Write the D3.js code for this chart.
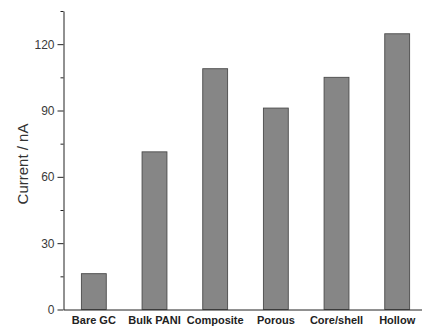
<!DOCTYPE html>
<html>
<head>
<meta charset="utf-8">
<script src="https://cdn.jsdelivr.net/npm/d3@7"></script>
<style>
  body { margin: 0; background: #fff; }
  svg { display: block; font-family: "Liberation Sans", Arial, sans-serif; }
</style>
</head>
<body>
<svg></svg>
<script>
const W = 422
const H = 327

const categories = ['Bare GC', 'Bulk PANI', 'Composite', 'Porous', 'Core/shell', 'Hollow']
const currents = [16.2, 71.3, 108.9, 91.1, 105.0, 124.7]
const majorTicks = [0, 30, 60, 90, 120]
const minorTicks = [15, 45, 75, 105, 135]

const svg = d3.select('svg')
  .attr('width', W)
  .attr('height', H)

const x = d3.scaleBand()
  .domain(categories)
  .range([63.5, 63.5 + 6 * 60.67])
  .paddingInner(0.59)
  .paddingOuter(0.295)

const y = d3.scaleLinear()
  .domain([0, 135])
  .range([309.5, 11])

// bars
svg.append('g')
  .selectAll('rect')
  .data(categories)
  .join('rect')
    .attr('x', d => x(d))
    .attr('y', (d, i) => y(currents[i]))
    .attr('width', x.bandwidth())
    .attr('height', (d, i) => y(0) - y(currents[i]))
    .attr('fill', '#868686')
    .attr('stroke', '#4a4a4a')
    .attr('stroke-width', 0.9)

// y axis, minor ticks first
svg.append('g')
  .attr('transform', 'translate(63.5,0)')
  .call(d3.axisLeft(y).tickValues(minorTicks).tickSize(3).tickSizeOuter(0).tickFormat(''))
  .call(g => g.select('.domain').remove())
  .call(g => g.selectAll('line').attr('stroke', '#222'))

svg.append('g')
  .attr('transform', 'translate(63.5,0)')
  .call(d3.axisLeft(y).tickValues(majorTicks).tickSize(6).tickSizeOuter(0).tickPadding(3))
  .call(g => g.select('.domain').attr('stroke', '#222'))
  .call(g => g.selectAll('line').attr('stroke', '#222'))
  .call(g => g.selectAll('text')
    .attr('font-size', 12)
    .attr('font-family', '"Liberation Sans", Arial, sans-serif')
    .attr('fill', '#3a3a3a'))

// x axis
svg.append('g')
  .attr('transform', 'translate(0,309.5)')
  .call(d3.axisBottom(x).tickSize(0).tickPadding(7).tickSizeOuter(0))
  .call(g => g.select('.domain').attr('stroke', '#222'))
  .call(g => g.selectAll('text')
    .attr('font-size', 11)
    .attr('font-weight', 'bold')
    .attr('font-family', '"Liberation Sans", Arial, sans-serif')
    .attr('fill', '#222'))

// y label
svg.append('text')
  .attr('transform', 'translate(22,164) rotate(-90)')
  .attr('text-anchor', 'middle')
  .attr('dominant-baseline', 'central')
  .attr('font-size', 15)
  .attr('fill', '#333')
  .text('Current / nA')
</script>
</body>
</html>
